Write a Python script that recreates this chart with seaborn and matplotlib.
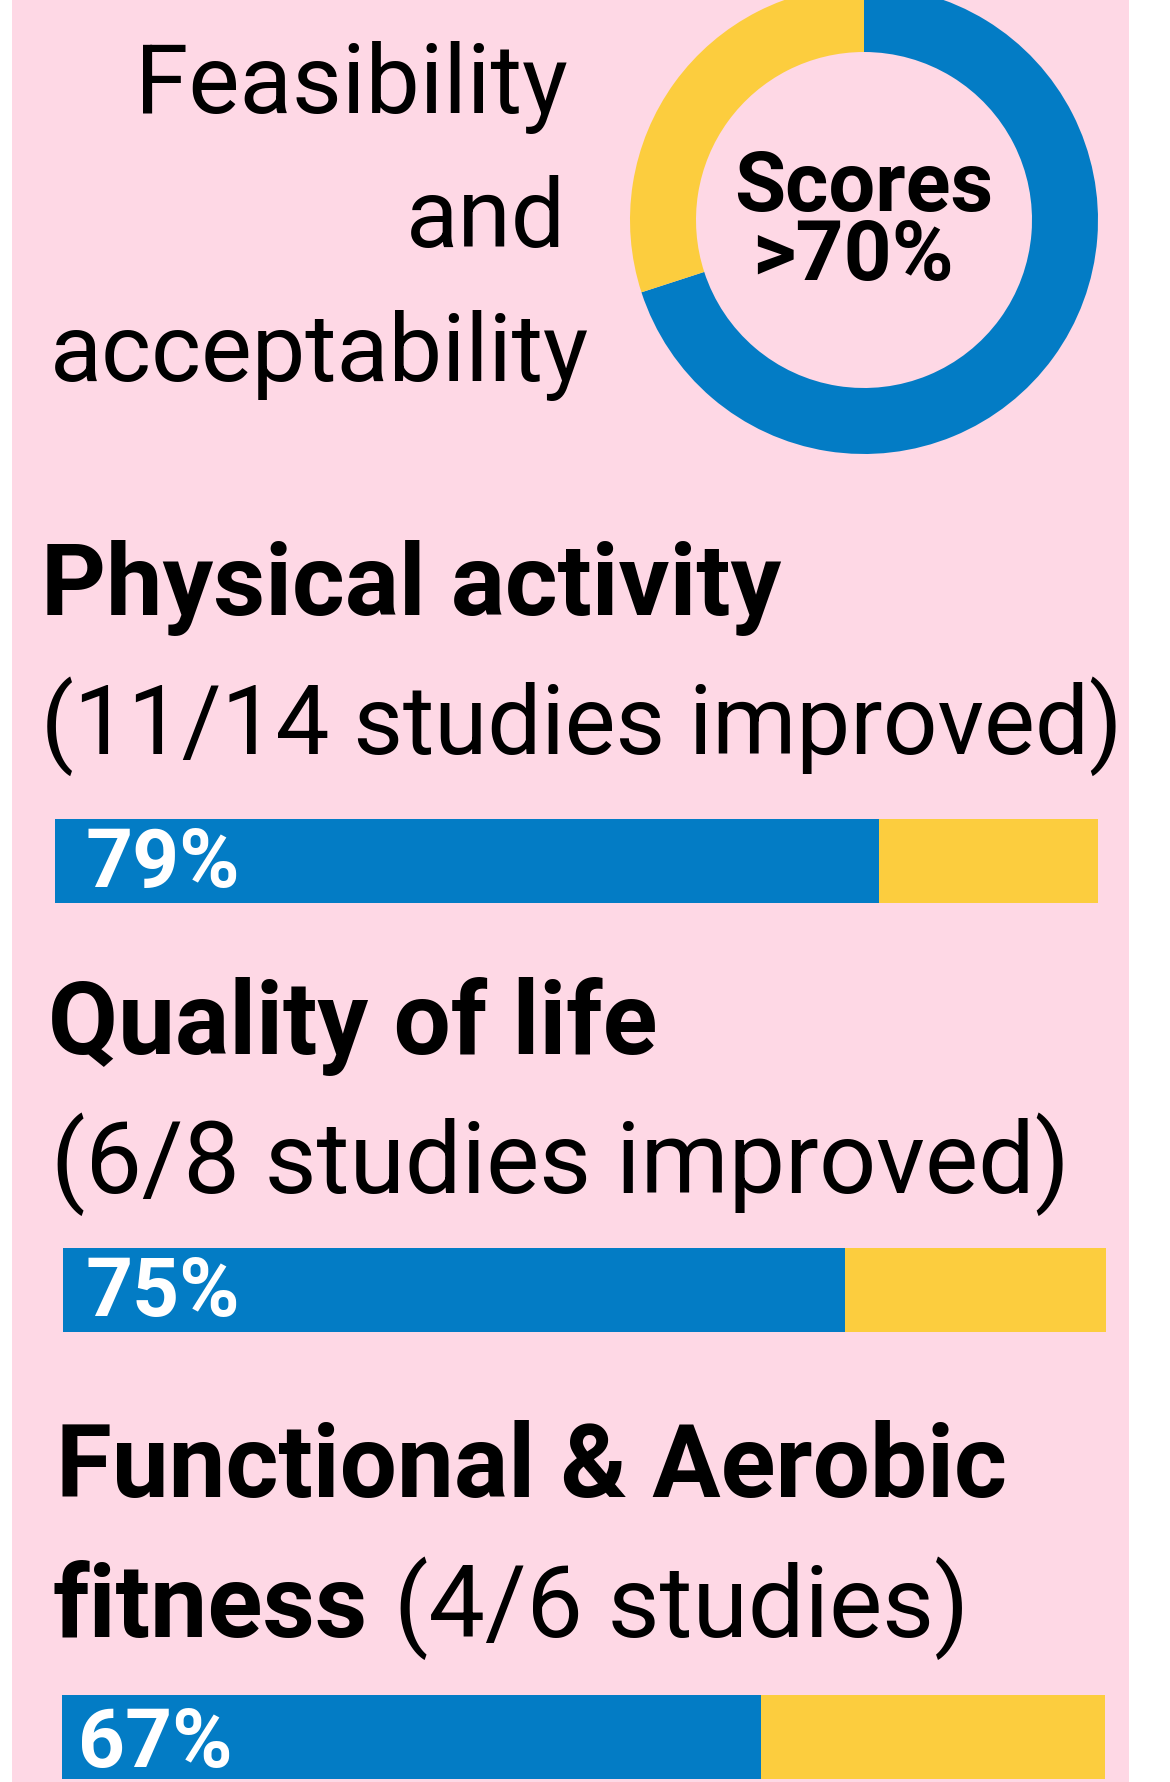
import matplotlib
matplotlib.use("Agg")
import matplotlib.pyplot as plt
from matplotlib.patches import Rectangle
import seaborn as sns
import pandas as pd

# ---- data ----
donut_labels = ["Scores >70%", "Other"]
donut_values = [70, 30]

bar_categories = ["Physical activity", "Quality of life", "Functional & Aerobic fitness"]
bar_values = [79, 75, 67]
bar_labels = ["79%", "75%", "67%"]
studies = ["(11/14 studies improved)", "(6/8 studies improved)", "(4/6 studies)"]

BLUE = "#037CC5"
YELLOW = "#FCCD3E"
PINK = "#FED8E5"

sns.set_theme(style="white")
plt.rcParams["font.family"] = ["Roboto", "DejaVu Sans"]

W, H, DPI = 1170, 1782, 100
fig = plt.figure(figsize=(W / DPI, H / DPI), dpi=DPI)
fig.patch.set_facecolor("white")


def px_axes(x0, y0, w, h, **kw):
    """axes from pixel box (top-left origin)"""
    return fig.add_axes([x0 / W, 1 - (y0 + h) / H, w / W, h / H], **kw)


def pt(px):
    return px * 72 / DPI


# background panel
bg = px_axes(0, 0, W, H)
bg.set_xlim(0, W)
bg.set_ylim(H, 0)
bg.axis("off")
bg.add_patch(Rectangle((12, 0), 1117, H, facecolor=PINK, edgecolor="none"))

# donut
cx, cy, R, r_in = 864, 220, 234, 168
dax = px_axes(cx - R, cy - R, 2 * R, 2 * R)
dax.pie(donut_values, colors=[BLUE, YELLOW], startangle=90, counterclock=False,
        radius=1, wedgeprops=dict(width=(R - r_in) / R, linewidth=0))
dax.set_xlim(-1, 1)
dax.set_ylim(-1, 1)
dax.set_aspect("equal")
dax.axis("off")

# bars
bar_boxes = [(55, 819), (63, 1248), (62, 1695)]
BW, BH = 1043, 84
for (bx, by), val in zip(bar_boxes, bar_values):
    ax = px_axes(bx, by, BW, BH)
    df = pd.DataFrame({"cat": ["a"], "full": [100], "value": [val]})
    sns.barplot(data=df, x="full", y="cat", orient="h", color=YELLOW,
                width=1.0, saturation=1, ax=ax, linewidth=0)
    sns.barplot(data=df, x="value", y="cat", orient="h", color=BLUE,
                width=1.0, saturation=1, ax=ax, linewidth=0)
    ax.set_xlim(0, 100)
    ax.set_ylim(0.5, -0.5)
    ax.axis("off")

# text overlay
tx = px_axes(0, 0, W, H)
tx.set_xlim(0, W)
tx.set_ylim(H, 0)
tx.axis("off")
tx.patch.set_alpha(0)

reg = dict(color="black", fontweight="normal", va="baseline")
bold = dict(color="black", fontweight="bold", va="baseline")

tx.text(568, 113, "Feasibility", ha="right", fontsize=pt(96.5), **reg)
tx.text(566, 247, "and", ha="right", fontsize=pt(96.5), **reg)
tx.text(50, 381, "acceptability", ha="left", fontsize=pt(95.5), **reg)

tx.text(864, 211, "Scores", ha="center", fontsize=pt(83), **bold)
tx.text(853, 280, ">70%", ha="center", fontsize=pt(84), **bold)

# section headings
tx.text(41, 615, bar_categories[0], ha="left", fontsize=pt(101), **bold)
tx.text(41, 754, studies[0], ha="left", fontsize=pt(96), **reg)

tx.text(48, 1054, bar_categories[1], ha="left", fontsize=pt(101.5), **bold)
tx.text(51, 1193, studies[1], ha="left", fontsize=pt(100.5), **reg)

tx.text(56, 1497, "Functional & Aerobic", ha="left", fontsize=pt(101.5), **bold)
tx.text(53, 1637, "fitness", ha="left", fontsize=pt(102), **bold)
tx.text(394, 1637, studies[2], ha="left", fontsize=pt(100.5), **reg)

# bar value labels
label_pos = [(86, 887), (86, 1316), (78, 1767)]
for (lx, ly), lab in zip(label_pos, bar_labels):
    tx.text(lx, ly, lab, ha="left", color="white", fontweight="bold",
            va="baseline", fontsize=pt(82))

fig.savefig("out.png", dpi=DPI, facecolor="white")
